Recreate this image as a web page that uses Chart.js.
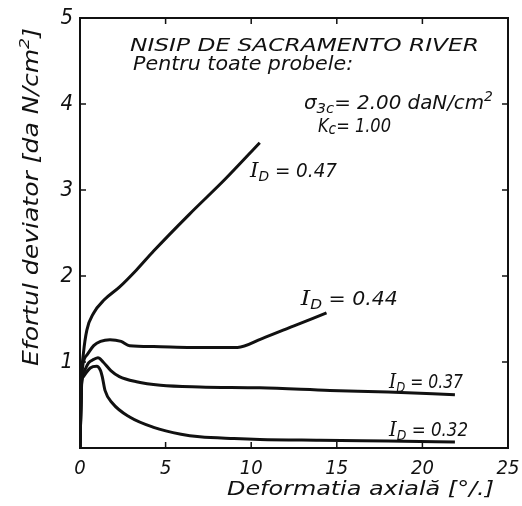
<!DOCTYPE html>
<html>
<head>
<meta charset="utf-8">
<script src="https://cdn.jsdelivr.net/npm/chart.js@4.4.1/dist/chart.umd.min.js"></script>
<style>
  html, body { margin: 0; padding: 0; background: #fff; }
  canvas { display: block; }
</style>
</head>
<body>
<canvas id="chart" width="522" height="506"></canvas>
<script>
// axial strain [%] -> deviator stress [daN/cm2]
const strain047 = [0, 0.1, 0.2, 0.4, 0.8, 1.4, 2.3, 3.3, 4.3, 6.4, 8.5, 10.5];
const stress047 = [0, 0.85, 1.10, 1.37, 1.57, 1.72, 1.87, 2.07, 2.29, 2.72, 3.13, 3.55];

const strain044 = [0, 0.1, 0.4, 0.8, 1.2, 1.75, 2.4, 2.9, 4.3, 6.5, 9.2, 10.6, 12.5, 14.4];
const stress044 = [0, 0.85, 1.08, 1.19, 1.24, 1.26, 1.24, 1.19, 1.18, 1.17, 1.17, 1.27, 1.42, 1.57];

const strain037 = [0, 0.1, 0.2, 0.5, 0.8, 1.05, 1.35, 1.8, 2.3, 3.3, 4.7, 7.0, 10.5, 14.6, 18.0, 21.9];
const stress037 = [0, 0.78, 0.87, 0.99, 1.03, 1.05, 1.00, 0.90, 0.83, 0.77, 0.73, 0.71, 0.70, 0.67, 0.65, 0.62];

const strain032 = [0, 0.1, 0.2, 0.6, 0.97, 1.2, 1.3, 1.46, 1.9, 2.9, 4.3, 5.9, 7.0, 9.0, 10.5, 14, 18, 21.9];
const stress032 = [0, 0.75, 0.83, 0.93, 0.95, 0.90, 0.83, 0.67, 0.52, 0.36, 0.24, 0.16, 0.13, 0.11, 0.10, 0.09, 0.08, 0.07];

const xTicks = [0, 5, 10, 15, 20, 25];
const yTicks = [0, 1, 2, 3, 4, 5];
const densityLabels = ['0.47', '0.44', '0.37', '0.32'];

const FONT = "'DejaVu Sans Condensed', 'DejaVu Sans', sans-serif";
const SERIF = "'DejaVu Serif', serif";
const INK = '#111';

function pts(xs, ys) {
    return xs.map((x, i) => ({ x: x, y: ys[i] }));
}

// parts: [text, sizeFactor, dyFactor, family]; squeezed/stretched to a target width
function drawRich(ctx, parts, x, y, width, size) {
    ctx.save();
    const fontOf = p => `italic ${size * (p[1] || 1)}px ${p[3] || FONT}`;
    let total = 0;
    parts.forEach(p => {
        ctx.font = fontOf(p);
        total += ctx.measureText(p[0]).width;
    });
    ctx.translate(x, y);
    ctx.scale(width / total, 1);
    ctx.fillStyle = INK;
    ctx.textBaseline = 'middle';
    ctx.textAlign = 'left';
    let cx = 0;
    parts.forEach(p => {
        ctx.font = fontOf(p);
        ctx.fillText(p[0], cx, (p[2] || 0) * size);
        cx += ctx.measureText(p[0]).width;
    });
    ctx.restore();
}

const framePlugin = {
    id: 'frame',
    afterDraw(chart) {
        const ctx = chart.ctx;
        const a = chart.chartArea;
        const xs = chart.scales.x, ys = chart.scales.y;

        ctx.save();
        ctx.strokeStyle = INK;
        ctx.lineWidth = 2;
        ctx.strokeRect(a.left, a.top, a.right - a.left, a.bottom - a.top);

        // short inward ticks on all four sides
        ctx.lineWidth = 1.5;
        ctx.beginPath();
        xTicks.slice(1, -1).forEach(v => {
            const px = xs.getPixelForValue(v);
            ctx.moveTo(px, a.bottom); ctx.lineTo(px, a.bottom - 6);
            ctx.moveTo(px, a.top); ctx.lineTo(px, a.top + 6);
        });
        yTicks.slice(1, -1).forEach(v => {
            const py = ys.getPixelForValue(v);
            ctx.moveTo(a.left, py); ctx.lineTo(a.left + 6, py);
            ctx.moveTo(a.right, py); ctx.lineTo(a.right - 6, py);
        });
        ctx.stroke();
        ctx.restore();

        // notes inside the plot
        const X = v => xs.getPixelForValue(v), Y = v => ys.getPixelForValue(v);
        drawRich(ctx, [['NISIP DE SACRAMENTO RIVER']], X(2.92), Y(4.67), 349, 18);
        drawRich(ctx, [['Pentru toate probele:']], X(3.1), Y(4.45), 220, 19);
        drawRich(ctx, [['σ'], ['3c', 0.75, 0.3], ['= 2.00 daN/cm'], ['2', 0.7, -0.35]], X(13.08), Y(4.0), 189, 19);
        drawRich(ctx, [['K'], ['c', 0.85, 0.15], ['= 1.00']], X(13.9), Y(3.73), 73, 19);

        const labelPos = [[9.93, 3.21, 87], [12.9, 1.72, 97], [18.05, 0.76, 74], [18.05, 0.2, 79]];
        densityLabels.forEach((t, i) => {
            const p = labelPos[i];
            drawRich(ctx, [['I', 1.05, 0, SERIF], ['D', 0.75, 0.3], [' = ' + t]], X(p[0]), Y(p[1]), p[2], 19);
        });

        // axis titles
        drawRich(ctx, [['Deformatia axială [°/.]']], 227, 490, 267, 20);
        ctx.save();
        ctx.translate(33, 197);
        ctx.rotate(-Math.PI / 2);
        drawRich(ctx, [['Efortul deviator [da N/cm'], ['2', 0.7, -0.35], [']']], -169, 0, 338, 21);
        ctx.restore();
    }
};

const line = data => ({
    data: data,
    borderColor: INK,
    borderWidth: 3,
    pointRadius: 0,
    fill: false,
    cubicInterpolationMode: 'monotone'
});

new Chart(document.getElementById('chart'), {
    type: 'line',
    data: {
        datasets: [
            line(pts(strain047, stress047)),
            line(pts(strain044, stress044)),
            line(pts(strain037, stress037)),
            line(pts(strain032, stress032))
        ]
    },
    options: {
        responsive: false,
        animation: false,
        layout: { padding: { top: 18, right: 14, left: 0, bottom: 0 } },
        plugins: { legend: { display: false }, tooltip: { enabled: false } },
        scales: {
            x: {
                type: 'linear',
                min: 0, max: 25,
                afterBuildTicks: s => { s.ticks = xTicks.map(v => ({ value: v })); },
                afterFit: s => { s.height = 58; s.paddingLeft = 0; s.paddingRight = 0; },
                grid: { display: false, drawTicks: false },
                border: { display: false },
                ticks: { color: INK, padding: 9, font: { family: FONT, size: 20, style: 'italic' } }
            },
            y: {
                min: 0, max: 5,
                afterBuildTicks: s => { s.ticks = yTicks.map(v => ({ value: v })); },
                afterFit: s => { s.width = 80; s.paddingTop = 0; s.paddingBottom = 0; },
                grid: { display: false, drawTicks: false },
                border: { display: false },
                ticks: {
                    color: INK, padding: 7,
                    font: { family: FONT, size: 22, style: 'italic' },
                    callback: v => v === 0 ? '' : v
                }
            }
        }
    },
    plugins: [framePlugin]
});
</script>
</body>
</html>
